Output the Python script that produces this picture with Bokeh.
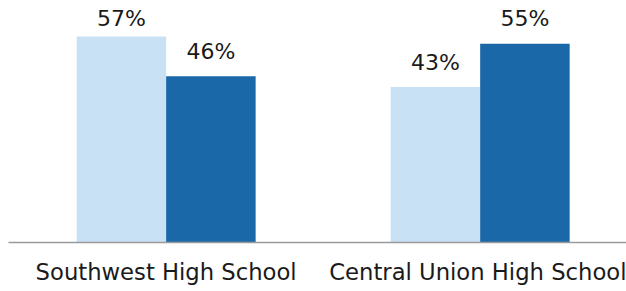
from bokeh.plotting import figure
from bokeh.models import FixedTicker, Range1d, ColumnDataSource
from bokeh.embed import file_html
from bokeh.resources import INLINE
from bokeh.core.properties import value

schools = ["Southwest High School", "Central Union High School"]
series_a = [57, 43]
series_b = [46, 55]
labels_a = ["57%", "43%"]
labels_b = ["46%", "55%"]

pos = [1, 2]
bw = 0.285
light = "#C9E1F5"
dark = "#1B68A8"
label_cap = 55  # labels of taller bars are held below the top of the chart

p = figure(width=626, height=291, output_backend="svg", toolbar_location=None,
           x_range=Range1d(0.498, 2.466), y_range=Range1d(0, 64.75),
           min_border_left=8, min_border_right=0, min_border_top=8, min_border_bottom=49)
p.outline_line_color = None
p.grid.visible = False
p.yaxis.visible = False

src_a = ColumnDataSource(dict(x=[v - bw / 2 for v in pos], y=series_a,
                              ly=[min(v, label_cap) for v in series_a], t=labels_a))
src_b = ColumnDataSource(dict(x=[v + bw / 2 for v in pos], y=series_b,
                              ly=[min(v, label_cap) for v in series_b], t=labels_b))
p.vbar(x="x", top="y", width=bw, bottom=0, source=src_a, fill_color=light, line_color=None)
p.vbar(x="x", top="y", width=bw, bottom=0, source=src_b, fill_color=dark, line_color=None)

for s in (src_a, src_b):
    p.text(x="x", y="ly", text="t", source=s, text_align="center", text_baseline="alphabetic",
           y_offset=-25, text_font=value("DejaVu Sans"), text_font_size="22px", text_color="#1a1a1a")

ax = p.xaxis[0]
ax.ticker = FixedTicker(ticks=pos)
ax.major_label_overrides = {1: schools[0], 2: schools[1]}
ax.major_tick_line_color = None
ax.minor_tick_line_color = None
ax.axis_line_color = "#9a9a9a"
ax.axis_line_width = 1.5
ax.major_label_text_font = "DejaVu Sans"
ax.major_label_text_font_size = "22.7px"
ax.major_label_text_color = "#1a1a1a"
ax.major_label_standoff = 10

open("out.html", "w").write(file_html(p, INLINE))
